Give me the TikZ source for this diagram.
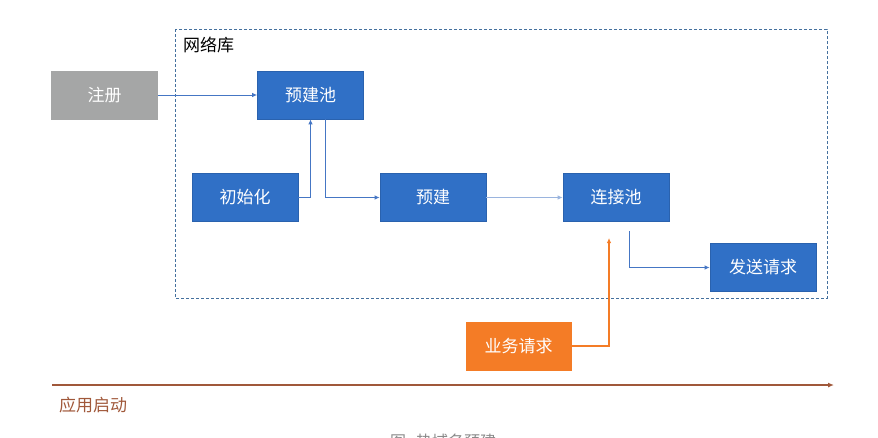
\documentclass[tikz,border=0pt]{standalone}
\usepackage{fontspec}
\setmainfont{Noto Sans CJK SC}
\usetikzlibrary{arrows.meta}
\definecolor{boxblue}{HTML}{3070C6}
\definecolor{boxborder}{HTML}{2A62AE}
\definecolor{lineblue}{HTML}{4576C4}
\definecolor{lightline}{HTML}{9AB4DE}
\definecolor{dashblue}{HTML}{44709E}
\definecolor{boxgray}{HTML}{A5A6A6}
\definecolor{boxorange}{HTML}{F47C26}
\definecolor{timebrown}{HTML}{A0583A}
\definecolor{captiongray}{HTML}{8A8A8A}
\tikzset{
  bluebox/.style={draw=boxborder, line width=0.6pt, fill=boxblue, text=white, minimum width=106pt, minimum height=48pt, inner sep=0pt, font=\fontsize{17pt}{20pt}\selectfont},
  graybox/.style={bluebox, draw=boxgray, fill=boxgray},
  orangebox/.style={bluebox, draw=boxorange, fill=boxorange},
  conn/.style={draw=lineblue, line width=1pt, -{Latex[length=5pt,width=4.5pt]}},
  lightconn/.style={conn, draw=lightline},
  orangeconn/.style={conn, draw=boxorange},
  lbl/.style={inner sep=0pt, font=\fontsize{17pt}{20pt}\selectfont}
}
\begin{document}
\begin{tikzpicture}[x=1pt, y=-1pt]
\useasboundingbox (0,0) rectangle (878,437);
% container
\draw[dashblue, line width=1pt, dash pattern=on 3pt off 2pt] (175,29) rectangle (827,298);
\node[lbl, anchor=west] (lib) at (183,45) {网络库};
% boxes
\node[graybox] (zc) at (104.5,95) {注册};
\node[bluebox] (yjc) at (310.5,95) {预建池};
\node[bluebox] (init) at (245,197.5) {初始化};
\node[bluebox] (yj) at (433,197.5) {预建};
\node[bluebox] (ljc) at (616,197.5) {连接池};
\node[bluebox] (fs) at (763,267.5) {发送请求};
\node[orangebox, minimum width=105pt] (yw) at (518.5,346) {业务请求};
% connectors
\draw[conn] (zc.east) -- (yjc.west);
\draw[conn] (init.east) -| (yjc.south);
\draw[conn] ([xshift=14.5pt]yjc.south) |- (yj.west);
\draw[lightconn] (yj.east) -- (ljc.west);
\coordinate (c1) at (629,231);
\draw[conn] (c1) |- (fs.west);
\coordinate (c2) at (609,238);
\draw[orangeconn, line width=1.1pt] (yw.east) -| (c2);
% timeline
\coordinate (t0) at (52,385);
\coordinate (t1) at (834,385);
\draw[timebrown, line width=1.3pt, -{Latex[length=6pt,width=5pt]}] (t0) -- (t1);
\node[lbl, text=timebrown, anchor=west] (start) at (59,405) {应用启动};
% caption (cut off at bottom, as in the reference)
\node[inner sep=0pt, text=captiongray, font=\fontsize{16pt}{18pt}\selectfont] (cap) at (443,441) {图\hspace{10pt}热域名预建};
\end{tikzpicture}
\end{document}
